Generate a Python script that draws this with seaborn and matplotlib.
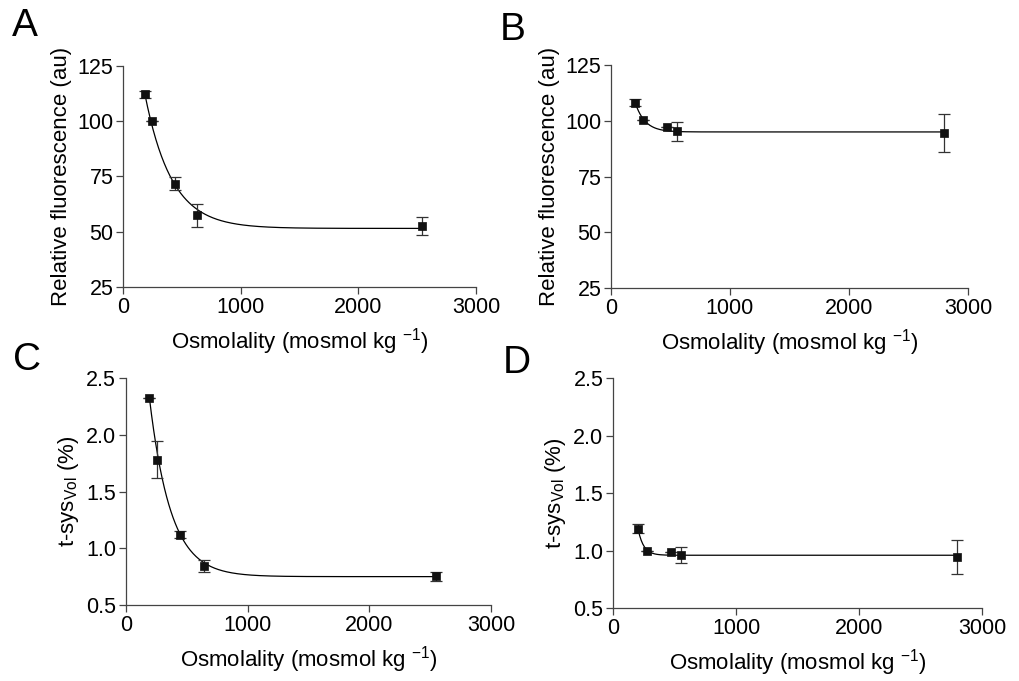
import numpy as np
import pandas as pd
import matplotlib
matplotlib.use("Agg")
import matplotlib.pyplot as plt
import seaborn as sns

# ---------------- data ----------------
osm_A = [185, 250, 438, 629, 2541]
fluo_A = [112.3, 100.0, 71.7, 57.5, 52.5]
err_A = [1.6, 0.0, 3.0, 5.2, 4.2]

osm_B = [204, 271, 473, 554, 2796]
fluo_B = [108.1, 100.4, 97.2, 95.3, 94.6]
err_B = [1.6, 0.0, 0.0, 4.3, 8.4]

osm_C = [192, 257, 444, 638, 2548]
tsys_C = [2.32, 1.78, 1.12, 0.845, 0.755]
err_C = [0.0, 0.165, 0.03, 0.05, 0.04]

osm_D = [203, 274, 475, 556, 2796]
tsys_D = [1.19, 1.0, 0.986, 0.962, 0.948]
err_D = [0.04, 0.0, 0.0, 0.068, 0.148]

# one-phase exponential decay fits (plateau, start value, rate constant)
fit_A = (51.5, 112.5, 0.0044)
fit_B = (95.0, 108.0, 0.012)
fit_C = (0.75, 2.33, 0.0057)
fit_D = (0.96, 1.19, 0.022)

x_ticks = [0, 1000, 2000, 3000]
y_ticks_fluo = [25, 50, 75, 100, 125]
y_ticks_tsys = [0.5, 1.0, 1.5, 2.0, 2.5]

xlabel = "Osmolality (mosmol kg $^{-1}$)"
ylabel_fluo = "Relative fluorescence (au)"
ylabel_tsys = "t-sys$_{\\mathrm{Vol}}$ (%)"

# ---------------- style ----------------
sns.set_theme(style="ticks")
plt.rcParams['font.family'] = ['Liberation Sans', 'DejaVu Sans']
plt.rcParams['mathtext.fontset'] = 'custom'
plt.rcParams['mathtext.rm'] = 'Liberation Sans'
plt.rcParams['mathtext.it'] = 'Liberation Sans:italic'
plt.rcParams['mathtext.bf'] = 'Liberation Sans:bold'
plt.rcParams['text.color'] = 'black'
plt.rcParams['axes.labelcolor'] = 'black'
plt.rcParams['xtick.labelcolor'] = 'black'
plt.rcParams['ytick.labelcolor'] = 'black'

fig = plt.figure(figsize=(10.2, 6.81), dpi=100)

panels = [
    ("A", [0.1206, 0.5786, 0.346, 0.3245], osm_A, fluo_A, err_A, fit_A, y_ticks_fluo, ylabel_fluo, "%d"),
    ("B", [0.599, 0.577, 0.350, 0.3275], osm_B, fluo_B, err_B, fit_B, y_ticks_fluo, ylabel_fluo, "%d"),
    ("C", [0.1235, 0.1116, 0.358, 0.3333], osm_C, tsys_C, err_C, fit_C, y_ticks_tsys, ylabel_tsys, "%.1f"),
    ("D", [0.601, 0.107, 0.3618, 0.3377], osm_D, tsys_D, err_D, fit_D, y_ticks_tsys, ylabel_tsys, "%.1f"),
]

letter_pos = {"A": (0.012, 0.988), "B": (0.49, 0.982), "C": (0.013, 0.498), "D": (0.493, 0.494)}

spine_col = "#444444"
for letter, rect, xs, ys, es, fit, yt, ylab, fmt in panels:
    ax = fig.add_axes(rect)
    plateau, y0, k = fit
    xc = np.linspace(xs[0], xs[-1], 400)
    yc = plateau + (y0 - plateau) * np.exp(-k * (xc - xs[0]))
    sns.lineplot(x=xc, y=yc, ax=ax, color="black", linewidth=0.9)
    ax.errorbar(xs, ys, yerr=es, fmt="none", ecolor="#333333", elinewidth=0.9,
                capsize=4, capthick=0.9)
    df = pd.DataFrame({"x": xs, "y": ys})
    sns.scatterplot(data=df, x="x", y="y", ax=ax, marker="s", s=28, color="#111111",
                    edgecolor="#111111", linewidth=0.5, zorder=5)
    ax.set_xlim(0, 3000)
    ax.set_ylim(yt[0], yt[-1])
    ax.set_xticks(x_ticks)
    ax.set_yticks(yt)
    ax.set_yticklabels([fmt % v for v in yt])
    ax.set_xlabel(xlabel, fontsize=16, labelpad=6)
    ax.set_ylabel(ylab, fontsize=16, labelpad=4)
    ax.tick_params(labelsize=15.5, length=5, width=0.9, color=spine_col, pad=2)
    for s in ["top", "right"]:
        ax.spines[s].set_visible(False)
    for s in ["left", "bottom"]:
        ax.spines[s].set_color(spine_col)
        ax.spines[s].set_linewidth(0.9)
    fig.text(letter_pos[letter][0], letter_pos[letter][1], letter, fontsize=28,
             va="top", ha="left")

fig.savefig("out.png", dpi=100)
